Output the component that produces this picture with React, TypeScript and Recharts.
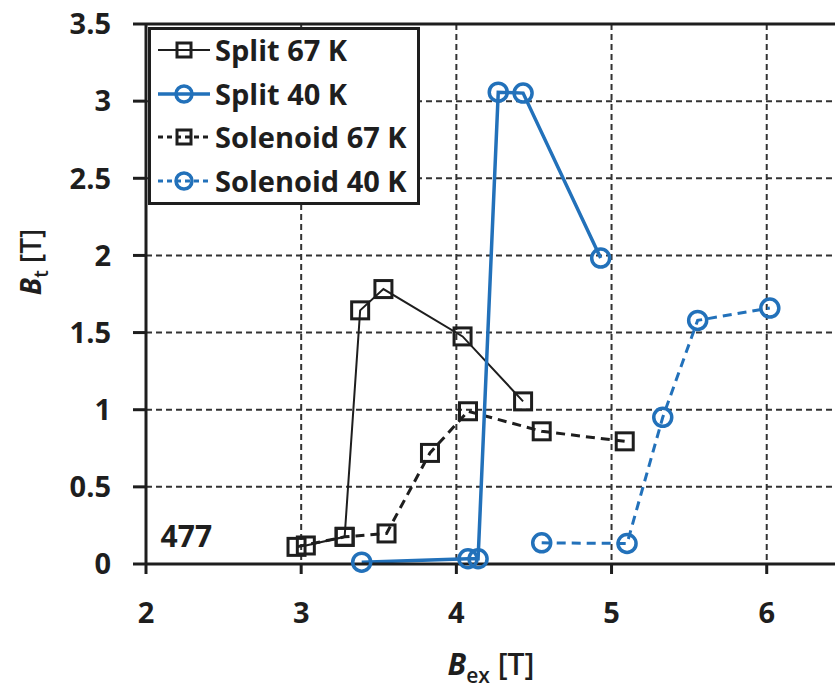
import {
  LineChart,
  Line,
  XAxis,
  YAxis,
  CartesianGrid,
  Legend,
  ReferenceLine,
  ReferenceDot,
} from 'recharts'

// B_ex [T] vs B_t [T]
const split67 = [
  { x: 3.03, y: 0.12 },
  { x: 3.28, y: 0.176 },
  { x: 3.38, y: 1.644 },
  { x: 3.53, y: 1.782 },
  { x: 4.04, y: 1.475 },
  { x: 4.43, y: 1.054 },
]

const split40 = [
  { x: 3.39, y: 0.012 },
  { x: 4.075, y: 0.034 },
  { x: 4.14, y: 0.034 },
  { x: 4.27, y: 3.058 },
  { x: 4.43, y: 3.052 },
  { x: 4.93, y: 1.983 },
]

const solenoid67 = [
  { x: 2.97, y: 0.111 },
  { x: 3.28, y: 0.176 },
  { x: 3.55, y: 0.198 },
  { x: 3.83, y: 0.72 },
  { x: 4.075, y: 0.99 },
  { x: 4.55, y: 0.86 },
  { x: 5.085, y: 0.795 },
]

const solenoid40 = [
  { x: 4.55, y: 0.137 },
  { x: 5.1, y: 0.133 },
  { x: 5.33, y: 0.951 },
  { x: 5.555, y: 1.579 },
  { x: 6.02, y: 1.659 },
]

const xTicks = [2, 3, 4, 5, 6]
const yTicks = [0, 0.5, 1, 1.5, 2, 2.5, 3, 3.5]

const BLACK = '#1e1e1e'
const BLUE = '#2271ba'
const FONT = '"Open Sans", "Noto Sans", sans-serif'

const legendItems = [
  { name: 'Split 67 K', color: BLACK, dash: undefined, shape: 'square', width: 2 },
  { name: 'Split 40 K', color: BLUE, dash: undefined, shape: 'circle', width: 3.5 },
  { name: 'Solenoid 67 K', color: BLACK, dash: '5 4', shape: 'square', width: 3 },
  { name: 'Solenoid 40 K', color: BLUE, dash: '5 4', shape: 'circle', width: 3 },
]

function squareDot(color: string) {
  return (props: any) => {
    const { cx, cy, index } = props
    if (cx == null || cy == null) return <g key={index} />
    return (
      <rect
        key={index}
        x={cx - 8.5}
        y={cy - 8.5}
        width={17}
        height={17}
        fill="none"
        stroke={color}
        strokeWidth={3}
      />
    )
  }
}

function circleDot(color: string) {
  return (props: any) => {
    const { cx, cy, index } = props
    if (cx == null || cy == null) return <g key={index} />
    return (
      <circle key={index} cx={cx} cy={cy} r={9} fill="none" stroke={color} strokeWidth={3.5} />
    )
  }
}

function renderLegend() {
  return (
    <div
      style={{
        width: 266,
        height: 172,
        border: `3px solid ${BLACK}`,
        background: '#fff',
        boxSizing: 'content-box',
        fontFamily: FONT,
        fontWeight: 700,
        fontSize: 29,
        color: BLACK,
      }}
    >
      {legendItems.map((item, i) => (
        <div
          key={item.name}
          style={{
            position: 'absolute',
            left: 3,
            top: 3 + 20 + i * 43.5 - 22,
            height: 44,
            display: 'flex',
            alignItems: 'center',
            whiteSpace: 'nowrap',
          }}
        >
          <svg width={64} height={44} style={{ display: 'block' }}>
            <line
              x1={7}
              y1={22}
              x2={59}
              y2={22}
              stroke={item.color}
              strokeWidth={item.width}
              strokeDasharray={item.dash}
            />
            {item.shape === 'square' ? (
              <rect x={26} y={15} width={14} height={14} fill="none" stroke={item.color} strokeWidth={3} />
            ) : (
              <circle cx={33} cy={22} r={8} fill="none" stroke={item.color} strokeWidth={3.5} />
            )}
          </svg>
          <span style={{ marginLeft: 0, lineHeight: '44px' }}>{item.name}</span>
        </div>
      ))}
    </div>
  )
}

function renderXLabel() {
  return (
    <text x={491} y={675} textAnchor="middle" fill={BLACK} fontFamily={FONT} fontSize={30}>
      <tspan fontStyle="italic" fontWeight={700}>B</tspan>
      <tspan fontSize={21} fontWeight={600} dy={8}>ex</tspan>
      <tspan fontWeight={600} dy={-8}> [T]</tspan>
    </text>
  )
}

function renderYLabel() {
  return (
    <text
      x={0}
      y={0}
      transform="translate(41, 262) rotate(-90)"
      textAnchor="middle"
      fill={BLACK}
      fontFamily={FONT}
      fontSize={28}
    >
      <tspan fontStyle="italic" fontWeight={700}>B</tspan>
      <tspan fontSize={19} fontWeight={600} dy={7}>t</tspan>
      <tspan fontWeight={600} dy={-7}> [T]</tspan>
    </text>
  )
}

const tickStyle = { fontSize: 29, fontWeight: 700, fill: BLACK, fontFamily: FONT }

export default function App() {
  return (
    <div style={{ position: 'absolute', left: 0, top: 0, width: 835, height: 688, background: '#fff' }}>
      <LineChart width={835} height={688} margin={{ top: 24, right: 0, bottom: 0, left: 0 }}>
        <CartesianGrid
          stroke="#333"
          strokeWidth={2}
          strokeDasharray="6 4"
          horizontalValues={yTicks}
          verticalValues={xTicks}
        />
        <XAxis
          type="number"
          dataKey="x"
          domain={[2, 6.44]}
          ticks={xTicks}
          allowDataOverflow
          height={124}
          tickSize={10}
          tickMargin={28}
          tick={tickStyle}
          axisLine={{ stroke: BLACK, strokeWidth: 3 }}
          tickLine={{ stroke: BLACK, strokeWidth: 3 }}
          label={renderXLabel}
        />
        <YAxis
          type="number"
          dataKey="y"
          domain={[0, 3.5]}
          ticks={yTicks}
          width={146}
          tickSize={13}
          tickMargin={22}
          tick={tickStyle}
          axisLine={{ stroke: BLACK, strokeWidth: 3 }}
          tickLine={{ stroke: BLACK, strokeWidth: 3 }}
          label={renderYLabel}
        />
        <ReferenceLine y={3.5} stroke={BLACK} strokeWidth={3} />
        <ReferenceDot
          x={2.26}
          y={0.18}
          r={0}
          fill="none"
          stroke="none"
          label={{ value: '477', position: 'center', fontSize: 30, fontWeight: 700, fill: BLACK, fontFamily: FONT }}
        />
        <Line
          data={solenoid67}
          dataKey="y"
          name="Solenoid 67 K"
          stroke={BLACK}
          strokeWidth={3}
          strokeDasharray="9 6"
          dot={squareDot(BLACK)}
          activeDot={false}
          isAnimationActive={false}
        />
        <Line
          data={split67}
          dataKey="y"
          name="Split 67 K"
          stroke={BLACK}
          strokeWidth={2}
          dot={squareDot(BLACK)}
          activeDot={false}
          isAnimationActive={false}
        />
        <Line
          data={solenoid40}
          dataKey="y"
          name="Solenoid 40 K"
          stroke={BLUE}
          strokeWidth={3}
          strokeDasharray="9 6"
          dot={circleDot(BLUE)}
          activeDot={false}
          isAnimationActive={false}
        />
        <Line
          data={split40}
          dataKey="y"
          name="Split 40 K"
          stroke={BLUE}
          strokeWidth={3.5}
          dot={circleDot(BLUE)}
          activeDot={false}
          isAnimationActive={false}
        />
        <Legend
          layout="horizontal"
          verticalAlign="middle"
          align="center"
          content={renderLegend}
          wrapperStyle={{ left: 148, top: 27, width: 272, height: 178 }}
        />
      </LineChart>
    </div>
  )
}
